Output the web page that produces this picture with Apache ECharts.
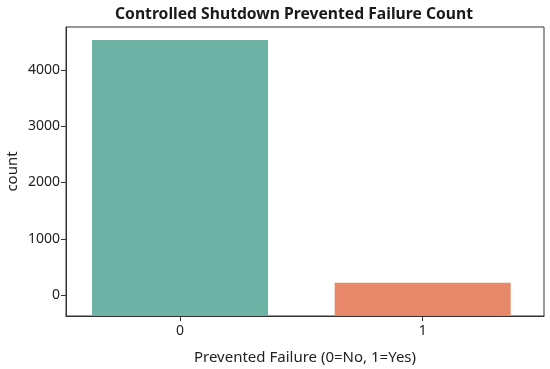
<!DOCTYPE html>
<html><head><meta charset="utf-8">
<script src="https://cdn.jsdelivr.net/npm/echarts@6/dist/echarts.min.js"></script>
<style>html,body{margin:0;padding:0;background:#fff}#c{width:550px;height:369px}</style>
</head><body><div id="c"></div>
<script>
const categories = [0, 1];
const counts = [4533, 219];
const barColors = ['#6db3a5', '#e8886a'];
const yTicks = [0, 1000, 2000, 3000, 4000];

const chart = echarts.init(document.getElementById('c'), null, {renderer: 'canvas'});
const font = 'Noto Sans';
chart.setOption({
  animation: false,
  title: {
    text: 'Controlled Shutdown Prevented Failure Count',
    left: 110, top: 2,
    textStyle: {fontFamily: font, fontSize: 15.7, fontWeight: 'bold', color: '#1a1a1a'}
  },
  grid: {left: 66, right: 6, top: 27, bottom: 53, outerBoundsMode: 'none', containLabel: false,
    show: true, borderColor: '#333', borderWidth: 1, backgroundColor: 'transparent'},
  xAxis: {
    type: 'value', min: -0.47, max: 1.5,
    name: 'Prevented Failure (0=No, 1=Yes)', nameLocation: 'middle', nameGap: 34,
    nameTextStyle: {fontFamily: font, fontSize: 15, color: '#222'},
    axisLine: {show: true, onZero: false, lineStyle: {color: '#333'}},
    axisTick: {show: true, length: 5, lineStyle: {color: '#333'}, customValues: categories},
    axisLabel: {fontFamily: font, fontSize: 14, color: '#222', margin: 8, customValues: categories,
      formatter: v => String(v)},
    splitLine: {show: false}
  },
  yAxis: {
    type: 'value', min: -373, max: 4764, startValue: -373,
    name: 'count', nameLocation: 'middle', nameGap: 46, nameMoveOverlap: false,
    nameTextStyle: {fontFamily: font, fontSize: 15, color: '#222'},
    axisLine: {show: true, onZero: false, lineStyle: {color: '#333'}},
    axisTick: {show: true, length: 5, lineStyle: {color: '#333'}, customValues: yTicks},
    axisLabel: {fontFamily: font, fontSize: 14, color: '#222', margin: 6, customValues: yTicks,
      formatter: v => String(v)},
    splitLine: {show: false}
  },
  series: [{
    type: 'bar', barWidth: 176,
    data: categories.map((c, i) => ({value: [c, counts[i]], itemStyle: {color: barColors[i]}}))
  }]
});
</script></body></html>
